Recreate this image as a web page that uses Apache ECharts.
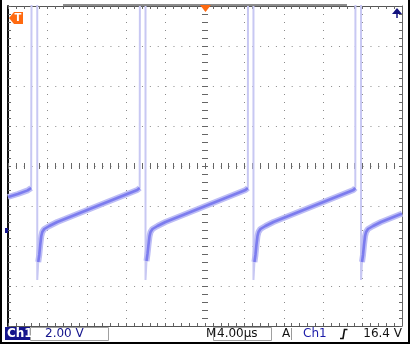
<!DOCTYPE html>
<html>
<head>
<meta charset="utf-8">
<script src="https://cdn.jsdelivr.net/npm/echarts@6/dist/echarts.min.js"></script>
<style>html,body{margin:0;padding:0;background:#fff}#c{width:410px;height:345px}</style>
</head>
<body>
<div id="c"></div>
<script>
// time in µs (4 µs/div), voltage in V relative to screen centre (2 V/div)
const rampT = [0, 1.0, 2.0, 2.35, null,
  3.07, 3.17, 3.27, 3.38, 3.48, 3.68, 4.19, 5.0, 7.03, 9.06, 11.09, 13.12, 13.37, null,
  14.06, 14.16, 14.26, 14.37, 14.47, 14.67, 15.18, 15.99, 18.02, 20.05, 22.08, 24.11, 24.35, null,
  25.02, 25.12, 25.22, 25.33, 25.43, 25.63, 26.14, 26.95, 28.98, 31.01, 33.04, 35.07, 35.26, null,
  35.94, 36.04, 36.14, 36.25, 36.35, 36.55, 37.06, 37.87, 39.9, 40.0];
const rampV = [-1.55, -1.4, -1.22, -1.1, null,
  -4.8, -4.45, -3.95, -3.5, -3.3, -3.15, -3.0, -2.8, -2.4, -2.0, -1.6, -1.2, -1.1, null,
  -4.75, -4.4, -3.95, -3.5, -3.3, -3.15, -3.0, -2.8, -2.4, -2.0, -1.6, -1.2, -1.1, null,
  -4.8, -4.45, -3.95, -3.5, -3.3, -3.15, -3.0, -2.8, -2.4, -2.0, -1.6, -1.2, -1.1, null,
  -4.8, -4.45, -3.95, -3.5, -3.3, -3.15, -3.0, -2.8, -2.4, -2.38];
const spikeT = [2.35, 2.41, 2.97, 2.97, 3.07, null,
  13.37, 13.40, 13.96, 13.96, 14.06, null,
  24.35, 24.37, 24.92, 24.92, 25.02, null,
  35.26, 35.28, 35.84, 35.84, 35.94];
const spikeV = [-1.1, 14, 14, -5.7, -4.8, null,
  -1.1, 14, 14, -5.7, -4.75, null,
  -1.1, 14, 14, -5.7, -4.8, null,
  -1.1, 14, 14, -5.7, -4.8];
const timeDiv = 4;      // µs per division
const voltDiv = 2;      // V per division
const statusTexts = ['Ch1', '2.00 V', 'M', '4.00µs', 'A', 'Ch1', '16.4 V'];

function pairs(xs, ys) {
  const out = [];
  for (let i = 0; i < xs.length; i++) {
    if (xs[i] === null) out.push([xs[i - 1], '-']);
    else out.push([xs[i], ys[i]]);
  }
  return out;
}

const chart = echarts.init(document.getElementById('c'), null, {renderer: 'canvas'});
const dotH = {color: '#8a8a8a', width: 1, type: [1, 6.88]};
const dotV = {color: '#8a8a8a', width: 1, type: [1, 7]};
const hidden = {show: false};
function xAx(extra) {
  return Object.assign({type: 'value', min: 0, max: 40, interval: timeDiv, axisLabel: hidden, splitLine: hidden}, extra);
}
function yAx(extra) {
  return Object.assign({type: 'value', min: -8, max: 8, interval: voltDiv, axisLabel: hidden, splitLine: hidden}, extra);
}
const tick = {show: true, inside: true, length: 3, lineStyle: {color: '#666', width: 1}};
const minor = {show: true, splitNumber: 5, length: 3, lineStyle: {color: '#666', width: 1}};
const tickOut = {show: true, inside: false, length: 3, lineStyle: {color: '#666', width: 1}};

const option = {
  animation: false,
  backgroundColor: '#fff',
  grid: {left: 8, right: 8, top: 6, bottom: 19, show: false},
  xAxis: [
    xAx({position: 'bottom', axisLine: {show: true, onZero: false, lineStyle: {color: '#555', width: 1}}, axisTick: tick, minorTick: minor, splitLine: {show: true, lineStyle: dotV}}),
    xAx({position: 'top', axisLine: {show: true, onZero: false, lineStyle: {color: '#555', width: 1}}, axisTick: tick, minorTick: minor}),
    xAx({position: 'bottom', offset: -160, axisLine: {show: false, onZero: false}, axisTick: tick, minorTick: minor}),
    xAx({position: 'bottom', offset: -160, axisLine: {show: false, onZero: false}, axisTick: tickOut, minorTick: minor})
  ],
  yAxis: [
    yAx({position: 'left', axisLine: {show: true, onZero: false, lineStyle: {color: '#111', width: 2}}, axisTick: tick, minorTick: minor, splitLine: {show: true, lineStyle: dotH}}),
    yAx({position: 'right', axisLine: {show: true, onZero: false, lineStyle: {color: '#666', width: 1}}, axisTick: tick, minorTick: minor}),
    yAx({position: 'left', offset: -197, axisLine: {show: false, onZero: false}, axisTick: tick, minorTick: minor}),
    yAx({position: 'left', offset: -197, axisLine: {show: false, onZero: false}, axisTick: tickOut, minorTick: minor})
  ],
  series: [
    {type: 'line', data: pairs(spikeT, spikeV), showSymbol: false, symbol: 'none', connectNulls: false, clip: true,
      lineStyle: {color: '#c8c8f3', width: 2}, z: 3},
    {type: 'line', data: pairs(rampT, rampV), showSymbol: false, symbol: 'none', connectNulls: false, clip: true,
      lineStyle: {color: '#bdbdf5', width: 6}, z: 4},
    {type: 'line', data: pairs(rampT, rampV), showSymbol: false, symbol: 'none', connectNulls: false, clip: true,
      lineStyle: {color: '#7c7cee', width: 2.6}, z: 5}
  ],
  graphic: [
    {type: 'rect', shape: {x: 1, y: -5, width: 408, height: 348}, style: {fill: null, stroke: '#000', lineWidth: 2}, z: 100},
    {type: 'rect', shape: {x: 63, y: 4, width: 284, height: 2}, style: {fill: '#8c8c8c'}, z: 90},
    {type: 'polygon', shape: {points: [[9, 18], [14, 12], [23, 12], [23, 24], [14, 24]]}, style: {fill: '#ff6a10'}, z: 100},
    {type: 'text', x: 18, y: 18, style: {text: 'T', fill: '#fff', font: 'bold 10px "DejaVu Sans"', textAlign: 'center', textVerticalAlign: 'middle'}, z: 101},
    {type: 'polygon', shape: {points: [[200, 5], [211, 5], [205.5, 12]]}, style: {fill: '#ff6a10'}, z: 100},
    {type: 'polygon', shape: {points: [[392, 14], [402, 14], [397, 8]]}, style: {fill: '#12127e'}, z: 100},
    {type: 'line', shape: {x1: 397, y1: 14, x2: 397, y2: 18}, style: {stroke: '#12127e', lineWidth: 1.5}, z: 100},
    {type: 'rect', shape: {x: 5, y: 228, width: 3, height: 5}, style: {fill: '#14148c'}, z: 100},
    {type: 'rect', shape: {x: 5, y: 327, width: 25, height: 13}, style: {fill: '#14148c'}, z: 100},
    {type: 'text', x: 7, y: 334, style: {text: statusTexts[0], fill: '#fff', font: 'bold 12px "DejaVu Sans"', textVerticalAlign: 'middle'}, z: 101},
    {type: 'rect', shape: {x: 30.5, y: 327.5, width: 78, height: 13}, style: {fill: '#fff', stroke: '#a0a0a0', lineWidth: 1}, z: 100},
    {type: 'text', x: 45, y: 334, style: {text: statusTexts[1], fill: '#14148c', font: '12px "DejaVu Sans"', textVerticalAlign: 'middle'}, z: 101},
    {type: 'text', x: 206, y: 334, style: {text: statusTexts[2], fill: '#111', font: '12px "DejaVu Sans"', textVerticalAlign: 'middle'}, z: 101},
    {type: 'rect', shape: {x: 213.5, y: 327.5, width: 58, height: 13}, style: {fill: '#fff', stroke: '#a0a0a0', lineWidth: 1}, z: 100},
    {type: 'text', x: 217, y: 334, style: {text: statusTexts[3], fill: '#111', font: '12px "DejaVu Sans"', textVerticalAlign: 'middle'}, z: 101},
    {type: 'text', x: 282, y: 334, style: {text: statusTexts[4], fill: '#111', font: '12px "DejaVu Sans"', textVerticalAlign: 'middle'}, z: 101},
    {type: 'line', shape: {x1: 291.5, y1: 328, x2: 291.5, y2: 340}, style: {stroke: '#999', lineWidth: 1}, z: 101},
    {type: 'text', x: 303, y: 334, style: {text: statusTexts[5], fill: '#1a1aa8', font: '12px "DejaVu Sans"', textVerticalAlign: 'middle'}, z: 101},
    {type: 'polyline', shape: {points: [[340, 338.5], [343, 338.5], [344.5, 329.5], [347.5, 329.5]]}, style: {stroke: '#111', lineWidth: 1.6, fill: null}, z: 101},
    {type: 'text', x: 402, y: 334, style: {text: statusTexts[6], fill: '#111', font: '12px "DejaVu Sans"', textAlign: 'right', textVerticalAlign: 'middle'}, z: 101}
  ]
};
chart.setOption(option);
</script>
</body>
</html>
